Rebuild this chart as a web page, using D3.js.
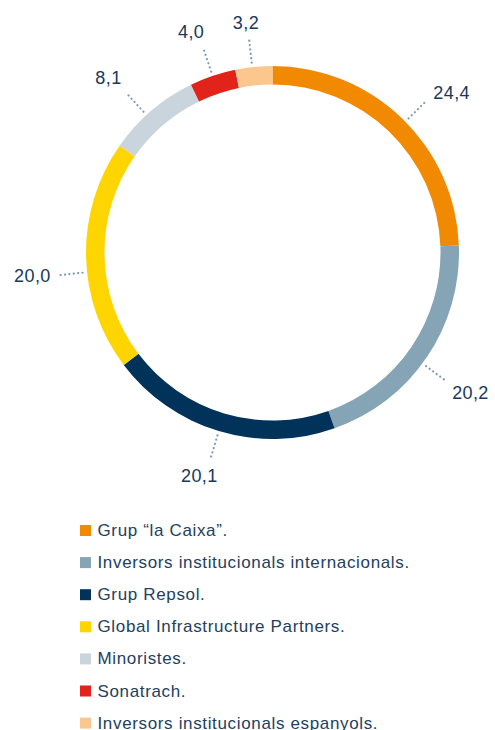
<!DOCTYPE html>
<html>
<head>
<meta charset="utf-8">
<script src="https://cdn.jsdelivr.net/npm/d3@7"></script>
<style>
  html, body { margin: 0; padding: 0; background: #fff; }
  svg { display: block; }
</style>
</head>
<body>
<svg id="chart" width="495" height="730"></svg>
<script>
// ---- data ----
const categories = [
  "Grup \u201Cla Caixa\u201D.",
  "Inversors institucionals internacionals.",
  "Grup Repsol.",
  "Global Infrastructure Partners.",
  "Minoristes.",
  "Sonatrach.",
  "Inversors institucionals espanyols."
];
const values = [24.4, 20.2, 20.1, 20.0, 8.1, 4.0, 3.2];
const valueLabels = ["24,4", "20,2", "20,1", "20,0", "8,1", "4,0", "3,2"];
const colors = ["#F18A00", "#85A5B6", "#00325A", "#FFD500", "#C9D4DC", "#E2231A", "#FCC78E"];

// ---- layout (not data) ----
const cx = 272.5, cy = 252.5, rOuter = 186.5, rInner = 168;
const leaderR0 = 191, leaderR1 = 216;
// small angular nudges (deg) and text offsets relative to the leader end
const labelLayout = [
  {da: 1.5,  dx: 7,   dy: -8,  anchor: "start"},
  {da: 2.3,  dx: 6,   dy: 12,  anchor: "start"},
  {da: 0,    dx: -11, dy: 17,  anchor: "middle"},
  {da: -5,   dx: -7,  dy: 0.5, anchor: "end"},
  {da: -2,   dx: -5,  dy: -15, anchor: "end"},
  {da: 0,    dx: -12, dy: -16, anchor: "middle"},
  {da: -0.5, dx: -3,  dy: -15, anchor: "middle"}
];

const svg = d3.select("#chart");
const g = svg.append("g").attr("transform", `translate(${cx},${cy})`);

const data = categories.map((c, i) => ({cat: c, value: values[i], label: valueLabels[i], color: colors[i], i}));

const pie = d3.pie().value(d => d.value).sort(null);
const arcs = pie(data);
const arc = d3.arc().innerRadius(rInner).outerRadius(rOuter);

g.selectAll("path.slice")
  .data(arcs)
  .join("path")
  .attr("class", "slice")
  .attr("d", arc)
  .attr("fill", d => d.data.color);

const deg = Math.PI / 180;
function pt(a, r) { return [Math.sin(a) * r, -Math.cos(a) * r]; }

const lab = g.selectAll("g.lab").data(arcs).join("g").attr("class", "lab");
lab.each(function(d) {
  const L = labelLayout[d.data.i];
  const a = (d.startAngle + d.endAngle) / 2 + L.da * deg;
  const p0 = pt(a, leaderR0), p1 = pt(a, leaderR1);
  const sel = d3.select(this);
  sel.append("line")
    .attr("x1", p0[0]).attr("y1", p0[1])
    .attr("x2", p1[0]).attr("y2", p1[1])
    .attr("stroke", "#7F9DB1")
    .attr("stroke-width", 2.2)
    .attr("stroke-linecap", "round")
    .attr("stroke-dasharray", "0.1,4.3");
  sel.append("text")
    .attr("x", p1[0] + L.dx)
    .attr("y", p1[1] + L.dy)
    .attr("text-anchor", L.anchor)
    .attr("dominant-baseline", "central")
    .attr("font-family", "'Liberation Sans', Arial, sans-serif")
    .attr("font-size", 18)
    .attr("letter-spacing", 0.4)
    .attr("fill", "#16385C")
    .text(d.data.label);
});

// ---- legend ----
const legend = svg.append("g").attr("transform", "translate(80,530.5)");
const rowH = 32.1;
const items = legend.selectAll("g.item").data(data).join("g")
  .attr("class", "item")
  .attr("transform", (d, i) => `translate(0,${i * rowH})`);
items.append("rect")
  .attr("x", 0).attr("y", -5.5)
  .attr("width", 11).attr("height", 11)
  .attr("fill", d => d.color);
items.append("text")
  .attr("x", 17.5)
  .attr("y", 0)
  .attr("dominant-baseline", "central")
  .attr("font-family", "'Liberation Sans', Arial, sans-serif")
  .attr("font-size", 17)
  .attr("letter-spacing", 0.65)
  .attr("fill", "#23405F")
  .text(d => d.cat);
</script>
</body>
</html>
